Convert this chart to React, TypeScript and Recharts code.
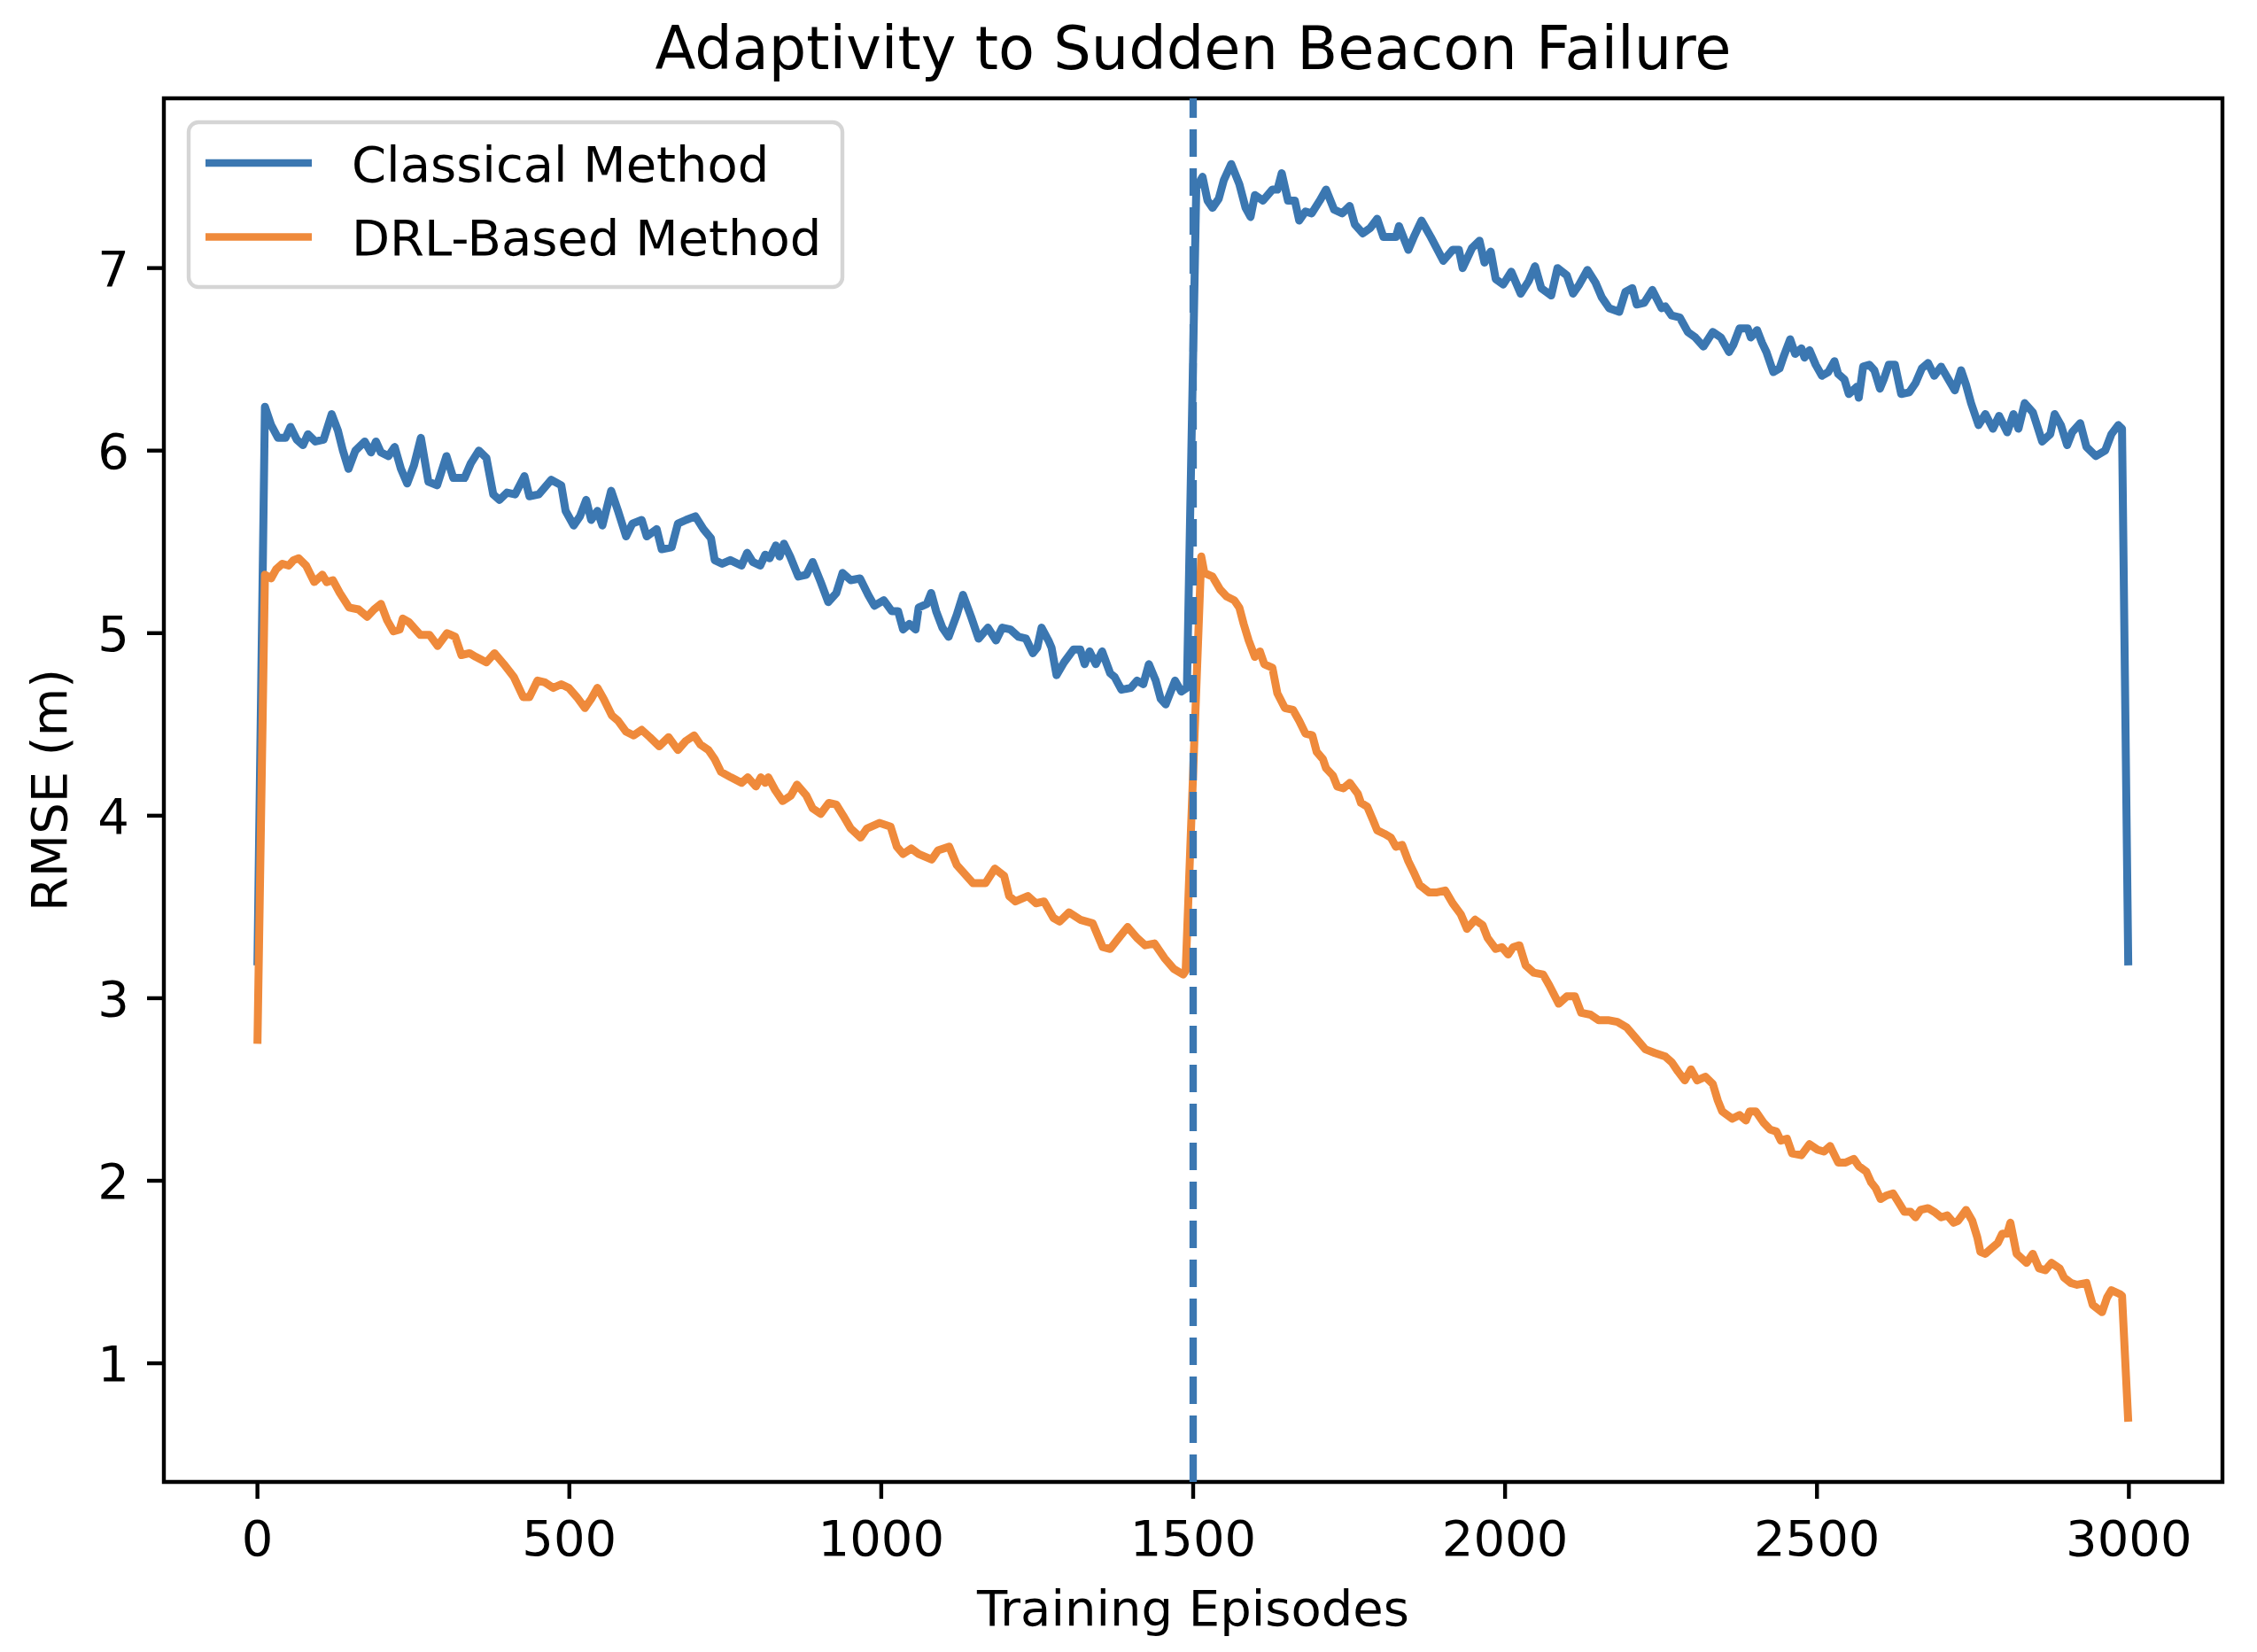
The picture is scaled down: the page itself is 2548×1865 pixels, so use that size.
import React from 'react';
import { LineChart, Line, XAxis, YAxis, ReferenceLine, ReferenceArea } from 'recharts';

// Classical method: episode / RMSE pairs
const classicalEpisodes = [
  0, 12, 22, 33, 45, 53, 63, 73, 81, 93, 106, 119, 129, 137, 146, 157, 172, 182, 190, 198,
  210, 220, 230, 240, 251, 262, 274, 288, 303, 314, 332, 342, 355, 367, 378, 388, 400, 413, 428, 436,
  451, 461, 471, 487, 494, 507, 517, 527, 535, 545, 553, 567, 578, 591, 601, 616, 624, 640, 648, 664,
  674, 687, 702, 715, 727, 733, 745, 758, 776, 785, 794, 806, 814, 821, 831, 837, 844, 854, 867, 880,
  890, 903, 915, 928, 938, 951, 966, 979, 989, 1004, 1017, 1027, 1035, 1045, 1055, 1060, 1073, 1080, 1088, 1098,
  1108, 1121, 1131, 1144, 1156, 1171, 1184, 1194, 1207, 1220, 1232, 1243, 1250, 1257, 1268, 1273, 1281, 1293, 1308, 1319,
  1326, 1334, 1344, 1354, 1367, 1374, 1385, 1400, 1410, 1420, 1429, 1440, 1448, 1456, 1471, 1481, 1490, 1505, 1515, 1523,
  1531, 1541, 1549, 1561, 1574, 1584, 1592, 1599, 1612, 1627, 1635, 1642, 1652, 1663, 1670, 1680, 1690, 1703, 1713, 1726,
  1739, 1751, 1759, 1772, 1784, 1795, 1805, 1825, 1830, 1845, 1855, 1866, 1881, 1901, 1916, 1926, 1932, 1947, 1959, 1967,
  1977, 1985, 1997, 2010, 2025, 2038, 2048, 2058, 2074, 2084, 2099, 2109, 2119, 2132, 2145, 2155, 2167, 2183, 2193, 2204,
  2211, 2223, 2236, 2251, 2257, 2267, 2280, 2293, 2305, 2318, 2333, 2346, 2359, 2366, 2376, 2389, 2394, 2404, 2412, 2419,
  2430, 2440, 2447, 2457, 2465, 2475, 2480, 2488, 2498, 2508, 2518, 2528, 2534, 2544, 2551, 2564, 2567, 2574, 2584, 2592,
  2601, 2607, 2615, 2625, 2630, 2635, 2648, 2658, 2668, 2678, 2688, 2699, 2709, 2721, 2731, 2739, 2747, 2759, 2770, 2782,
  2792, 2805, 2815, 2823, 2833, 2846, 2861, 2874, 2881, 2891, 2901, 2909, 2922, 2932, 2947, 2962, 2972, 2983, 2989, 2999,
];
const classicalRmse = [
  3.18, 6.24, 6.14, 6.07, 6.07, 6.13, 6.06, 6.03, 6.09, 6.05, 6.06, 6.2, 6.11, 6.0, 5.9, 6.0, 6.05, 5.99, 6.05, 5.99,
  5.97, 6.02, 5.9, 5.82, 5.92, 6.07, 5.83, 5.81, 5.97, 5.85, 5.85, 5.93, 6.0, 5.96, 5.76, 5.73, 5.77, 5.76, 5.86, 5.75,
  5.76, 5.8, 5.84, 5.81, 5.67, 5.59, 5.64, 5.73, 5.62, 5.67, 5.59, 5.78, 5.67, 5.53, 5.6, 5.62, 5.53, 5.57, 5.46, 5.47,
  5.6, 5.62, 5.64, 5.57, 5.52, 5.4, 5.38, 5.4, 5.37, 5.44, 5.39, 5.37, 5.43, 5.41, 5.48, 5.42, 5.49, 5.42, 5.31, 5.32,
  5.39, 5.28, 5.17, 5.22, 5.33, 5.29, 5.3, 5.21, 5.15, 5.18, 5.12, 5.12, 5.02, 5.05, 5.02, 5.14, 5.16, 5.22, 5.12, 5.03,
  4.98, 5.1, 5.21, 5.09, 4.97, 5.03, 4.96, 5.03, 5.02, 4.98, 4.97, 4.89, 4.92, 5.03, 4.96, 4.92, 4.77, 4.84, 4.91, 4.91,
  4.83, 4.9, 4.83, 4.9, 4.78, 4.76, 4.69, 4.7, 4.74, 4.72, 4.83, 4.74, 4.64, 4.61, 4.74, 4.68, 4.7, 7.44, 7.5, 7.37,
  7.33, 7.38, 7.48, 7.57, 7.46, 7.33, 7.28, 7.4, 7.37, 7.43, 7.43, 7.52, 7.37, 7.37, 7.26, 7.31, 7.3, 7.37, 7.43, 7.32,
  7.3, 7.34, 7.24, 7.19, 7.22, 7.27, 7.17, 7.17, 7.23, 7.1, 7.18, 7.26, 7.17, 7.04, 7.1, 7.1, 7.0, 7.11, 7.15, 7.03,
  7.09, 6.94, 6.91, 6.98, 6.86, 6.93, 7.01, 6.89, 6.85, 7.0, 6.96, 6.86, 6.91, 6.99, 6.92, 6.84, 6.78, 6.76, 6.87, 6.89,
  6.8, 6.81, 6.88, 6.78, 6.79, 6.74, 6.73, 6.65, 6.62, 6.57, 6.65, 6.62, 6.54, 6.58, 6.67, 6.67, 6.62, 6.66, 6.59, 6.54,
  6.43, 6.45, 6.52, 6.61, 6.53, 6.56, 6.51, 6.55, 6.47, 6.41, 6.43, 6.49, 6.42, 6.39, 6.31, 6.35, 6.29, 6.46, 6.47, 6.44,
  6.34, 6.39, 6.47, 6.47, 6.39, 6.31, 6.32, 6.37, 6.45, 6.48, 6.41, 6.46, 6.4, 6.33, 6.44, 6.36, 6.26, 6.14, 6.2, 6.12,
  6.19, 6.1, 6.2, 6.12, 6.26, 6.21, 6.05, 6.09, 6.2, 6.14, 6.03, 6.1, 6.15, 6.02, 5.97, 6.0, 6.09, 6.14, 6.12, 3.18,
];

// DRL-based method
const drlEpisodes = [
  0, 12, 22, 30, 40, 50, 58, 66, 78, 91, 104, 111, 121, 132, 147, 162, 176, 187, 198, 208,
  218, 228, 233, 243, 261, 276, 289, 304, 317, 327, 340, 350, 367, 380, 395, 411, 426, 436, 449, 461,
  474, 487, 499, 512, 525, 535, 545, 555, 568, 578, 591, 603, 616, 629, 644, 659, 674, 687, 700, 710,
  723, 733, 743, 759, 776, 786, 799, 807, 814, 819, 830, 842, 855, 865, 880, 890, 903, 916, 928, 939,
  951, 967, 977, 997, 1015, 1025, 1035, 1048, 1060, 1081, 1091, 1109, 1121, 1134, 1147, 1167, 1182, 1197, 1205, 1215,
  1235, 1248, 1261, 1276, 1286, 1301, 1319, 1339, 1355, 1367, 1383, 1395, 1410, 1423, 1438, 1454, 1469, 1484, 1488, 1513,
  1518, 1531, 1543, 1554, 1566, 1574, 1581, 1589, 1599, 1607, 1614, 1627, 1635, 1647, 1660, 1670, 1680, 1691, 1698, 1708,
  1713, 1724, 1731, 1741, 1751, 1764, 1769, 1779, 1789, 1795, 1807, 1817, 1825, 1835, 1845, 1855, 1863, 1878, 1891, 1904,
  1916, 1929, 1939, 1952, 1964, 1972, 1985, 1995, 2005, 2013, 2023, 2033, 2046, 2061, 2071, 2086, 2099, 2112, 2122, 2137,
  2150, 2165, 2180, 2195, 2210, 2225, 2240, 2257, 2267, 2277, 2288, 2298, 2308, 2321, 2333, 2341, 2348, 2364, 2376, 2386,
  2392, 2402, 2414, 2425, 2435, 2442, 2452, 2460, 2475, 2488, 2501, 2511, 2521, 2534, 2546, 2559, 2567, 2579, 2587, 2594,
  2602, 2612, 2622, 2633, 2640, 2650, 2658, 2666, 2678, 2688, 2699, 2709, 2719, 2726, 2739, 2749, 2757, 2762, 2770, 2780,
  2790, 2797, 2805, 2810, 2820, 2836, 2846, 2856, 2866, 2876, 2889, 2896, 2907, 2917, 2932, 2942, 2957, 2965, 2972, 2985,
  2989, 2999,
];
const drlRmse = [
  2.75, 5.32, 5.3, 5.35, 5.38, 5.37, 5.4, 5.41, 5.37, 5.28, 5.32, 5.28, 5.29, 5.22, 5.14, 5.13, 5.09, 5.13, 5.16, 5.07,
  5.01, 5.02, 5.08, 5.06, 4.99, 4.99, 4.93, 5.0, 4.98, 4.88, 4.89, 4.87, 4.84, 4.89, 4.83, 4.76, 4.65, 4.65, 4.74, 4.73,
  4.7, 4.72, 4.7, 4.65, 4.59, 4.64, 4.7, 4.64, 4.55, 4.52, 4.46, 4.44, 4.47, 4.43, 4.38, 4.43, 4.36, 4.41, 4.44, 4.39,
  4.36, 4.31, 4.24, 4.21, 4.18, 4.21, 4.16, 4.21, 4.18, 4.21, 4.14, 4.08, 4.11, 4.17, 4.11, 4.04, 4.01, 4.07, 4.06, 4.0,
  3.93, 3.88, 3.93, 3.96, 3.94, 3.83, 3.79, 3.82, 3.79, 3.76, 3.81, 3.83, 3.73, 3.68, 3.63, 3.63, 3.71, 3.67, 3.56, 3.53,
  3.56, 3.52, 3.53, 3.44, 3.42, 3.47, 3.43, 3.41, 3.28, 3.27, 3.34, 3.39, 3.33, 3.29, 3.3, 3.22, 3.16, 3.13, 3.15, 5.42,
  5.33, 5.31, 5.24, 5.2, 5.18, 5.14, 5.05, 4.96, 4.87, 4.9, 4.83, 4.81, 4.67, 4.59, 4.58, 4.52, 4.45, 4.44, 4.35, 4.31,
  4.26, 4.22, 4.16, 4.15, 4.18, 4.12, 4.07, 4.05, 3.97, 3.92, 3.9, 3.88, 3.83, 3.84, 3.75, 3.68, 3.62, 3.58, 3.58, 3.59,
  3.52, 3.46, 3.38, 3.43, 3.4, 3.33, 3.27, 3.28, 3.24, 3.28, 3.29, 3.18, 3.14, 3.13, 3.07, 2.97, 3.01, 3.01, 2.92, 2.91,
  2.88, 2.88, 2.87, 2.84, 2.78, 2.72, 2.7, 2.68, 2.65, 2.6, 2.55, 2.61, 2.55, 2.57, 2.53, 2.44, 2.38, 2.34, 2.36, 2.33,
  2.38, 2.38, 2.32, 2.28, 2.27, 2.22, 2.23, 2.15, 2.14, 2.2, 2.17, 2.16, 2.19, 2.1, 2.1, 2.12, 2.08, 2.05, 1.99, 1.96,
  1.9, 1.92, 1.93, 1.87, 1.83, 1.83, 1.8, 1.84, 1.85, 1.83, 1.8, 1.81, 1.77, 1.78, 1.84, 1.78, 1.69, 1.61, 1.6, 1.63,
  1.66, 1.71, 1.71, 1.77, 1.6, 1.55, 1.6, 1.52, 1.51, 1.55, 1.52, 1.47, 1.44, 1.43, 1.44, 1.32, 1.28, 1.36, 1.4, 1.38,
  1.37, 0.68,
];

const failureEpisode = 1500;
const xTicks = [0, 500, 1000, 1500, 2000, 2500, 3000];
const yTicks = [1, 2, 3, 4, 5, 6, 7];

const BLUE = '#3b77b1';
const ORANGE = '#ef8a3b';
const FONT = '"DejaVu Sans", Verdana, sans-serif';
const LINE_W = 9;

const classicalData = classicalEpisodes.map((episode, i) => ({ episode, rmse: classicalRmse[i] }));
const drlData = drlEpisodes.map((episode, i) => ({ episode, rmse: drlRmse[i] }));

const tickStyle = { fill: '#000000', fontSize: 56, fontFamily: FONT };
const tickLineStyle = { stroke: '#000000', strokeWidth: 4.4 };

const App: React.FC = () => {
  return (
    <div style={{ position: 'absolute', left: 0, top: 0, width: 2548, height: 1865, background: '#ffffff', fontFamily: FONT }}>
      <LineChart width={2548} height={1865} margin={{ top: 111, right: 39, bottom: 0, left: 0 }}>
        {/* axes frame */}
        <ReferenceArea
          x1={-150} x2={3150} y1={0.35} y2={7.93}
          fill="none" stroke="#000000" strokeWidth={4.4} fillOpacity={0}
        />
        <XAxis
          type="number"
          dataKey="episode"
          domain={[-150, 3150]}
          allowDataOverflow
          ticks={xTicks}
          interval={0}
          height={192}
          tick={tickStyle}
          tickLine={tickLineStyle}
          tickSize={19}
          tickMargin={24}
          axisLine={false}
        />
        <YAxis
          type="number"
          domain={[0.35, 7.93]}
          allowDataOverflow
          ticks={yTicks}
          interval={0}
          width={185}
          tick={tickStyle}
          tickLine={tickLineStyle}
          tickSize={19}
          tickMargin={20}
          axisLine={false}
        />
        <Line
          data={classicalData}
          dataKey="rmse"
          type="linear"
          stroke={BLUE}
          strokeWidth={LINE_W}
          strokeLinejoin="round"
          dot={false}
          activeDot={false}
          isAnimationActive={false}
        />
        <Line
          data={drlData}
          dataKey="rmse"
          type="linear"
          stroke={ORANGE}
          strokeWidth={LINE_W}
          strokeLinejoin="round"
          dot={false}
          activeDot={false}
          isAnimationActive={false}
        />
        <ReferenceLine x={failureEpisode} stroke={BLUE} strokeWidth={8.3} strokeDasharray="31 13" />
      </LineChart>

      {/* title, axis labels and legend */}
      <svg
        width={2548}
        height={1865}
        style={{ position: 'absolute', left: 0, top: 0, pointerEvents: 'none' }}
        fontFamily={FONT}
      >
        <text x={1347} y={78} textAnchor="middle" fontSize={67} fill="#000000">
          Adaptivity to Sudden Beacon Failure
        </text>
        <text x={1347} y={1835} textAnchor="middle" fontSize={56} fill="#000000">
          Training Episodes
        </text>
        <text transform="translate(75,892) rotate(-90)" textAnchor="middle" fontSize={56} fill="#000000">
          RMSE (m)
        </text>

        <rect x={213} y={138} width={738} height={186} rx={11} ry={11} fill="#ffffff" fillOpacity={0.8} stroke="#d5d5d5" strokeWidth={4.4} />
        <line x1={232} y1={184} x2={352} y2={184} stroke={BLUE} strokeWidth={8.3} />
        <text x={397} y={205} fontSize={56} fill="#000000">Classical Method</text>
        <line x1={232} y1={267.5} x2={352} y2={267.5} stroke={ORANGE} strokeWidth={8.3} />
        <text x={397} y={288} fontSize={56} fill="#000000">DRL-Based Method</text>
      </svg>
    </div>
  );
};

export default App;
